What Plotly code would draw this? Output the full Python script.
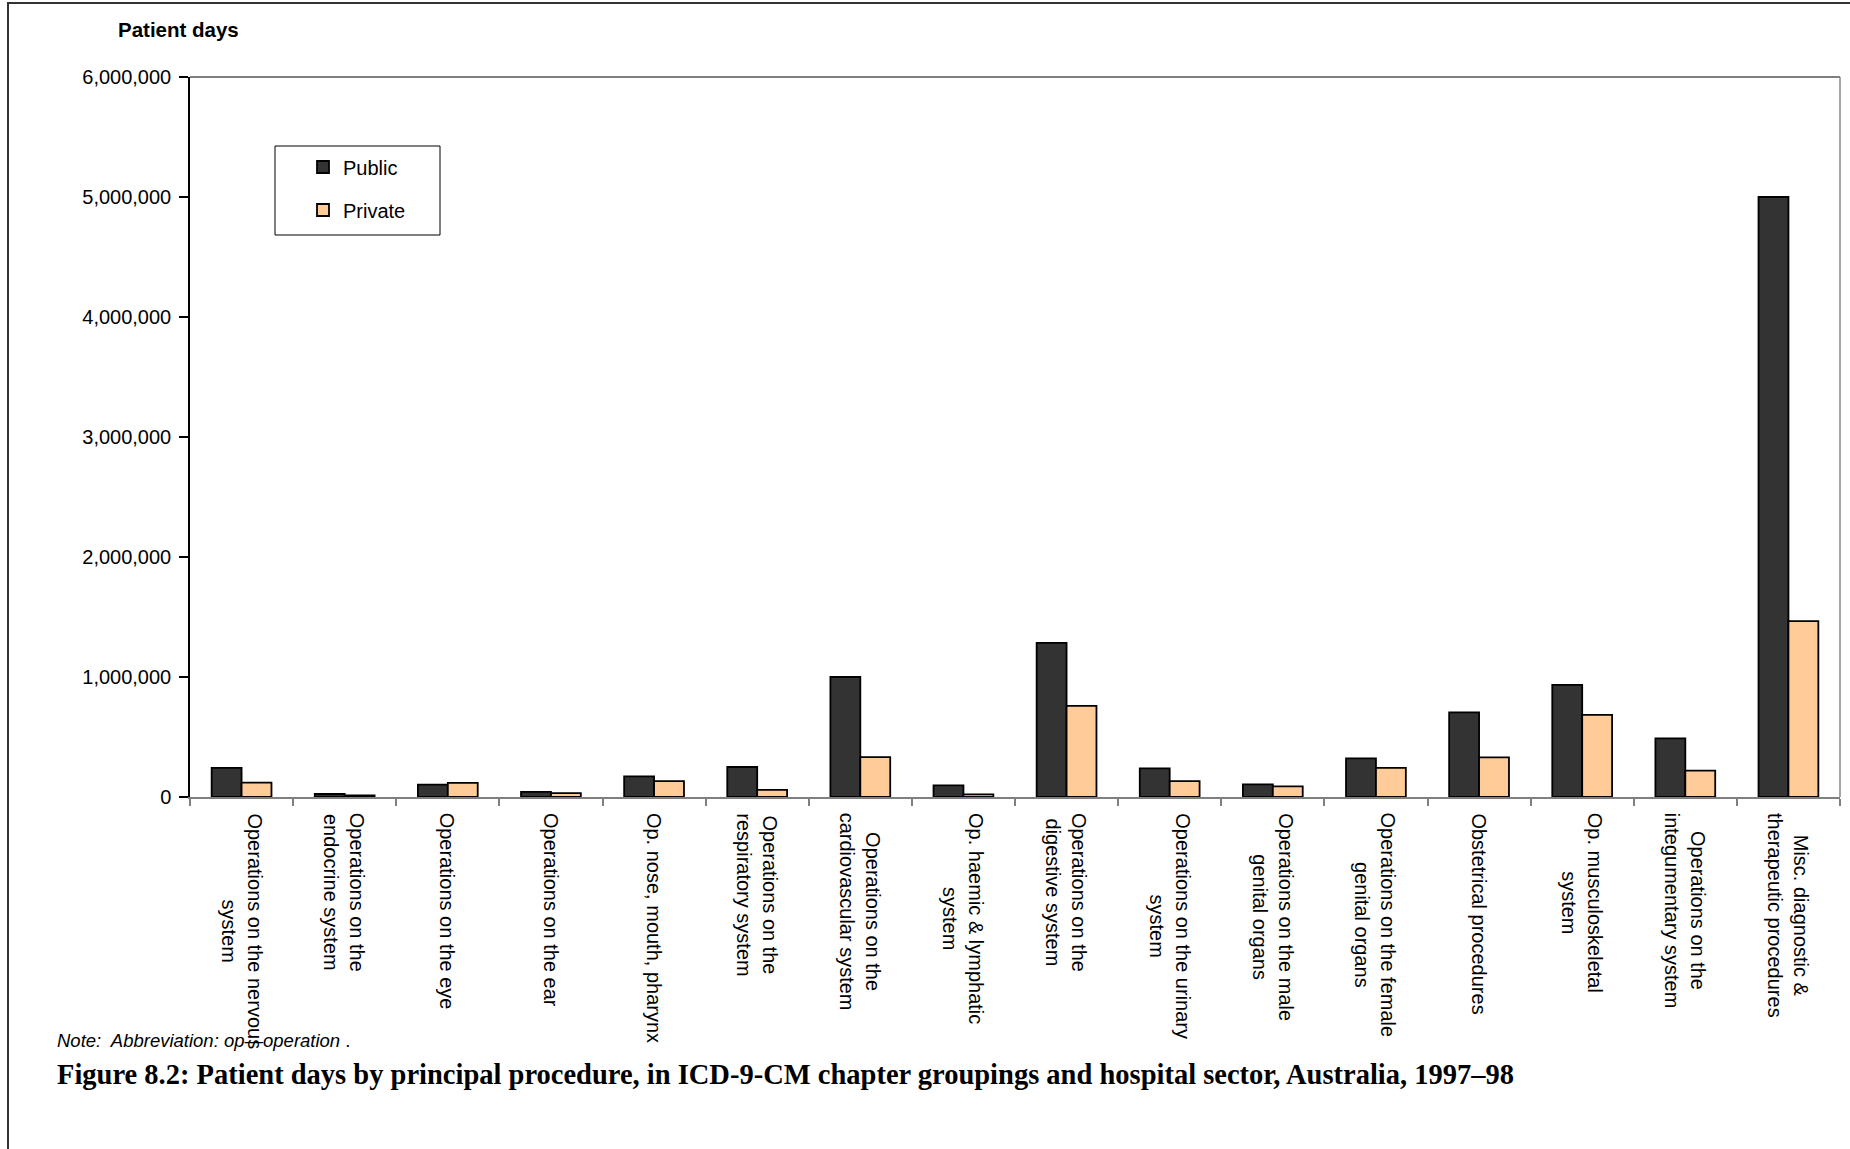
import plotly.graph_objects as go

# ---- data ----
categories = [
    "Operations on the nervous<br>system",
    "Operations on the<br>endocrine system",
    "Operations on the eye",
    "Operations on the ear",
    "Op. nose, mouth, pharynx",
    "Operations on the<br>respiratory system",
    "Operations on the<br>cardiovascular system",
    "Op. haemic & lymphatic<br>system",
    "Operations on the<br>digestive system",
    "Operations on the urinary<br>system",
    "Operations on the male<br>genital organs",
    "Operations on the female<br>genital organs",
    "Obstetrical procedures",
    "Op. musculoskeletal<br>system",
    "Operations on the<br>integumentary system",
    "Misc. diagnostic &<br>therapeutic procedures",
]
public_days = [242000, 25000, 103000, 42000, 172000, 250000, 1000000, 97000,
               1285000, 239000, 106000, 322000, 706000, 935000, 489000, 5000000]
private_days = [120000, 14000, 117000, 33000, 133000, 60000, 333000, 22000,
                760000, 133000, 89000, 242000, 331000, 685000, 219000, 1465000]
series_names = ["Public", "Private"]
y_ticks = [0, 1000000, 2000000, 3000000, 4000000, 5000000, 6000000]

FONT = "Liberation Sans, Arial, sans-serif"

W, H = 1850, 1149
L, R, T, B = 190, 1840, 77, 797   # plot area in pixels
pw, ph = R - L, B - T


def px(xp):
    return (xp - L) / pw


def py(yp):
    return (B - yp) / ph


fig = go.Figure()
fig.add_trace(go.Bar(
    x=categories, y=public_days, name=series_names[0], legendgroup="a",
    marker=dict(color="#333333", line=dict(color="#000000", width=1.8)),
))
fig.add_trace(go.Bar(
    x=categories, y=private_days, name=series_names[1], legendgroup="b",
    marker=dict(color="#FFCC99", line=dict(color="#000000", width=1.8)),
))

annotations = []
for c in categories:
    annotations.append(dict(
        x=c, xref="x", y=0, yref="paper", yanchor="top", xanchor="center",
        text=c, textangle=90, align="center", showarrow=False, yshift=-14,
        font=dict(family=FONT, size=20, color="#000000"),
    ))

annotations.append(dict(
    x=px(116), y=py(29), xref="paper", yref="paper", xanchor="left", yanchor="middle",
    text="<b>Patient days</b>", showarrow=False,
    font=dict(family=FONT, size=20.5, color="#000000"),
))
annotations.append(dict(
    x=px(55), y=py(1040), xref="paper", yref="paper", xanchor="left", yanchor="middle",
    text="<i>Note:  Abbreviation: op—operation</i> .", showarrow=False,
    font=dict(family="Liberation Sans Narrow, Arial Narrow, Liberation Sans, sans-serif", size=18.5, color="#000000"),
))
annotations.append(dict(
    x=px(55), y=py(1074), xref="paper", yref="paper", xanchor="left", yanchor="middle",
    text="<b>Figure 8.2: Patient days by principal procedure, in ICD-9-CM chapter groupings and hospital sector, Australia, 1997–98</b>",
    showarrow=False,
    font=dict(family="Liberation Serif, Times New Roman, serif", size=28.5, color="#000000"),
))

shapes = [
    # legend box
    dict(type="rect", xref="paper", yref="paper", x0=px(275), x1=px(440), y0=py(235), y1=py(146),
         line=dict(color="#000000", width=1), fillcolor="#FFFFFF", layer="below"),
    # plot area top/right border
    dict(type="line", xref="paper", yref="paper", x0=0, x1=1, y0=1, y1=1,
         line=dict(color="#555555", width=1.5)),
    dict(type="line", xref="paper", yref="paper", x0=1, x1=1, y0=0, y1=1,
         line=dict(color="#888888", width=1.5)),
    # page frame
    dict(type="line", xref="paper", yref="paper", x0=px(7), x1=px(1850), y0=py(3), y1=py(3),
         line=dict(color="#333333", width=2)),
    dict(type="line", xref="paper", yref="paper", x0=px(8), x1=px(8), y0=py(3), y1=py(1149),
         line=dict(color="#333333", width=2)),
]

fig.update_layout(
    width=W, height=H, autosize=False,
    margin=dict(l=L, r=W - R, t=T, b=H - B, pad=0),
    paper_bgcolor="#FFFFFF", plot_bgcolor="#FFFFFF",
    barmode="group", bargap=0.42, bargroupgap=0.0,
    font=dict(family=FONT, size=20, color="#000000"),
    showlegend=True,
    legend=dict(
        x=px(303), y=py(147.5), xanchor="left", yanchor="top",
        bgcolor="rgba(0,0,0,0)", borderwidth=0,
        font=dict(family=FONT, size=20, color="#000000"),
        traceorder="grouped", tracegroupgap=14, itemwidth=30,
    ),
    annotations=annotations,
    shapes=shapes,
)
fig.update_xaxes(
    type="category", showticklabels=False, showgrid=False, zeroline=False,
    showline=True, linecolor="#808080", linewidth=1.5,
    ticks="outside", tickson="boundaries", ticklen=7, tickcolor="#808080", tickwidth=1.5,
)
fig.update_yaxes(
    range=[0, 6000000], tickvals=y_ticks, tickformat=",d",
    showgrid=False, zeroline=False,
    showline=True, linecolor="#000000", linewidth=1.5,
    ticks="outside", ticklen=9, tickcolor="#000000", tickwidth=1.5,
    ticklabelstandoff=4,
    tickfont=dict(family=FONT, size=20, color="#000000"),
)

fig.write_html("out.html", config={"displayModeBar": False},
               post_script="document.body.style.margin='0';")
